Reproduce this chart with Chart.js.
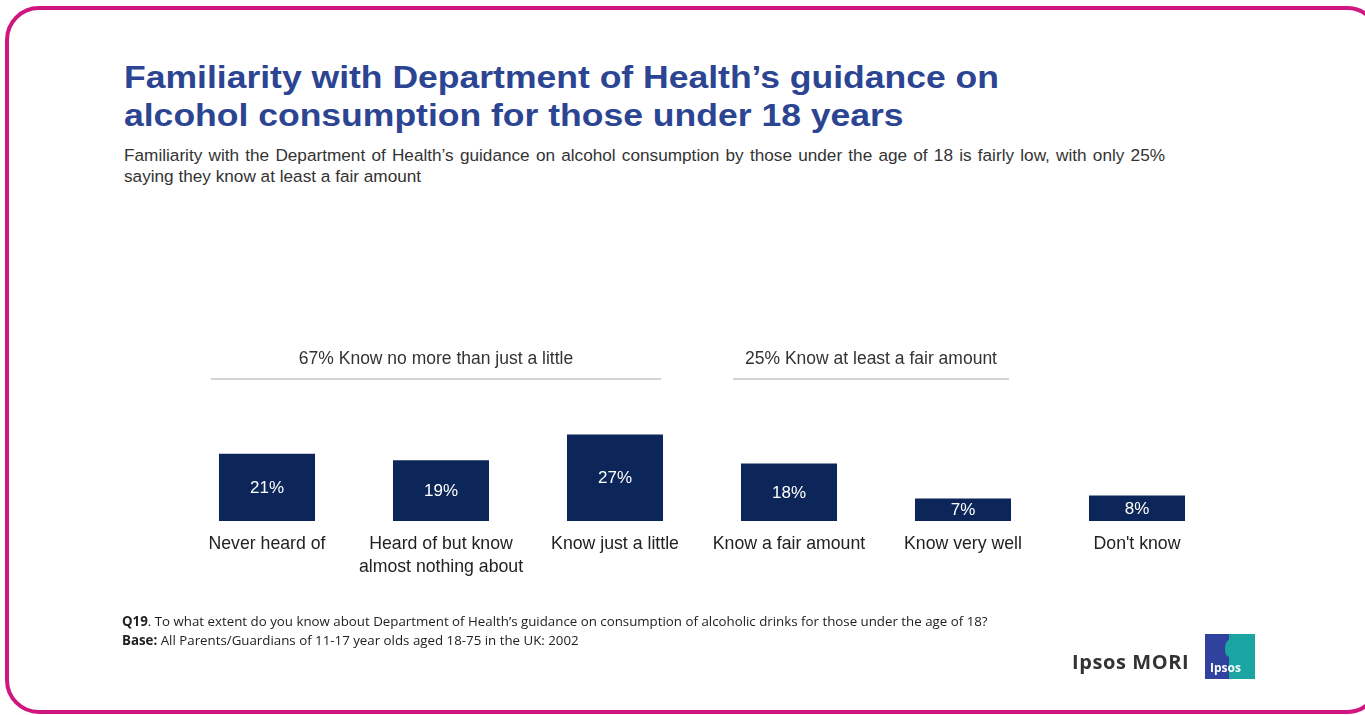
<!DOCTYPE html>
<html>
<head>
<meta charset="utf-8">
<script src="https://cdn.jsdelivr.net/npm/chart.js@4.4.1/dist/chart.umd.min.js"></script>
<style>
  html, body { margin: 0; padding: 0; background: #fff; }
  body { width: 1365px; height: 715px; position: relative; overflow: hidden; font-family: "Liberation Sans", Arial, sans-serif; }
  #frame { position: absolute; left: 5px; top: 6px; width: 1368px; height: 700px; border: 4px solid #D1167F; border-radius: 34px; box-sizing: content-box; }
  #title { position: absolute; left: 124px; top: 58px; margin: 0; font-size: 32px; line-height: 38px; font-weight: bold; color: #2C4593; white-space: nowrap; transform: scaleX(1.11); transform-origin: 0 0; }
  #subtitle { position: absolute; left: 124px; top: 145px; margin: 0; width: 1041px; font-size: 17.2px; line-height: 21px; color: #333; }
  #subtitle .full { display: block; text-align: justify; text-align-last: justify; }
  #subtitle .rest { display: block; }
  #notes { position: absolute; left: 122px; top: 612px; font-size: 13.3px; line-height: 19px; color: #222; white-space: nowrap; font-family: "Open Sans", sans-serif; letter-spacing: 0; }
  #brand { position: absolute; left: 1072px; top: 648px; font-family: "Open Sans", sans-serif; font-weight: bold; font-size: 20px; color: #333; letter-spacing: 0.6px; }
  #logo { position: absolute; left: 1205px; top: 634px; width: 50px; height: 45px; background: linear-gradient(90deg, #31429E 0 48%, #1AA5A2 48% 100%); }
  #logo span { position: absolute; left: 5px; bottom: 3px; color: #fff; font-family: "Open Sans", sans-serif; font-weight: bold; font-size: 12px; }
  #logo i { position: absolute; left: 20px; top: 5px; width: 12px; height: 18px; background: #1AA5A2; border-radius: 50% 50% 40% 40%; }
  canvas { position: absolute; left: 0; top: 0; }
</style>
</head>
<body>
<div id="frame"></div>
<h1 id="title">Familiarity with Department of Health’s guidance on<br>alcohol consumption for those under 18 years</h1>
<p id="subtitle"><span class="full">Familiarity with the Department of Health’s guidance on alcohol consumption by those under the age of 18 is fairly low, with only 25%</span><span class="rest">saying they know at least a fair amount</span></p>
<canvas id="chart" width="1365" height="715"></canvas>
<div id="notes"><b>Q19</b>. To what extent do you know about Department of Health’s guidance on consumption of alcoholic drinks for those under the age of 18?<br><b>Base:</b> All Parents/Guardians of 11-17 year olds aged 18-75 in the UK: 2002</div>
<div id="brand">Ipsos MORI</div>
<div id="logo"><i></i><span>Ipsos</span></div>
<script>
// Answer categories (multi-line axis labels) and their shares in percent
const categories = [
  ["Never heard of"],
  ["Heard of but know", "almost nothing about"],
  ["Know just a little"],
  ["Know a fair amount"],
  ["Know very well"],
  ["Don't know"]
];
const shares = [21, 19, 27, 18, 7, 8];

// Summary groups spanning several categories (first/last category index)
const groupLabels = ["67% Know no more than just a little", "25% Know at least a fair amount"];
const groupStart = [0, 3];
const groupEnd = [2, 4];

const NAVY = "#0C2659";
const FONT = "'Liberation Sans', Arial, sans-serif";

// Writes each share in the middle of its bar
const valueLabels = {
  id: "valueLabels",
  afterDatasetsDraw(chart) {
    const ctx = chart.ctx;
    const meta = chart.getDatasetMeta(0);
    ctx.save();
    ctx.fillStyle = "#ffffff";
    ctx.font = "17px " + FONT;
    ctx.textAlign = "center";
    ctx.textBaseline = "middle";
    meta.data.forEach((bar, i) => {
      const mid = (bar.y + bar.base) / 2 + 1;
      ctx.fillText(shares[i] + "%", bar.x, mid);
    });
    ctx.restore();
  }
};

// Group headings with a rule underneath, spanning their categories
const groupHeadings = {
  id: "groupHeadings",
  afterDraw(chart) {
    const ctx = chart.ctx;
    const x = chart.scales.x;
    const meta = chart.getDatasetMeta(0);
    const half = meta.data[0].width / 2;
    ctx.save();
    groupLabels.forEach((label, g) => {
      const left = x.getPixelForValue(groupStart[g]) - half - 8;
      const right = x.getPixelForValue(groupEnd[g]) + half - 2;
      ctx.strokeStyle = "#D4D4D4";
      ctx.lineWidth = 2;
      ctx.beginPath();
      ctx.moveTo(left, 379);
      ctx.lineTo(right, 379);
      ctx.stroke();
      ctx.fillStyle = "#333333";
      ctx.font = "17.5px " + FONT;
      ctx.textAlign = "center";
      ctx.textBaseline = "middle";
      ctx.fillText(label, (left + right) / 2, 359);
    });
    ctx.restore();
  }
};

new Chart(document.getElementById("chart"), {
  type: "bar",
  data: {
    labels: categories,
    datasets: [{
      data: shares,
      backgroundColor: NAVY,
      borderWidth: 0,
      categoryPercentage: 1,
      barPercentage: 0.552
    }]
  },
  options: {
    responsive: false,
    animation: false,
    layout: { padding: { left: 180, right: 141, top: 393, bottom: 132 } },
    plugins: { legend: { display: false }, tooltip: { enabled: false }, title: { display: false } },
    scales: {
      x: {
        grid: { display: false },
        border: { display: false },
        ticks: {
          color: "#222222",
          font: { family: FONT, size: 17.7, lineHeight: 1.3 },
          padding: 4,
          maxRotation: 0,
          autoSkip: false
        }
      },
      y: {
        display: false,
        min: 0,
        max: 40
      }
    }
  },
  plugins: [valueLabels, groupHeadings]
});
</script>
</body>
</html>
